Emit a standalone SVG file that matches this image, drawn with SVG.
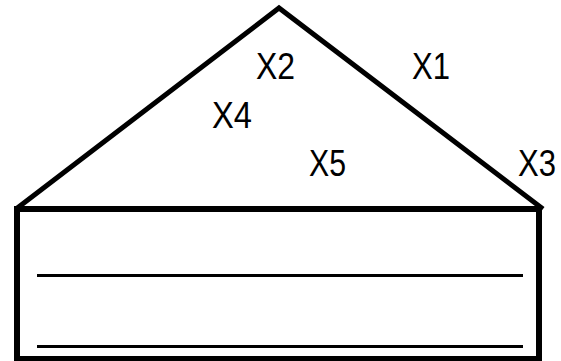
<svg xmlns="http://www.w3.org/2000/svg" width="561" height="361" viewBox="0 0 561 361">
<style>
.roof{fill:none;stroke:#000;stroke-width:5;stroke-linejoin:miter}
.box{fill:#fff;stroke:#000;stroke-width:6}
.line{stroke:#000;stroke-width:3}
.lbl{font-family:"Liberation Sans",Arial,sans-serif;font-size:36px;fill:#000}
</style>
<rect width="561" height="361" fill="#fff"/>
<g id="roof">
<polyline class="roof" points="16,209 279,8 543,209"/>
</g>
<g id="base">
<rect class="box" x="17" y="209" width="522" height="150"/>
<line class="line" x1="37" y1="275.5" x2="523" y2="275.5"/>
<line class="line" x1="37" y1="346.5" x2="523" y2="346.5"/>
</g>
<g id="labels">
<text id="X2" class="lbl" x="256" y="79" textLength="39" lengthAdjust="spacingAndGlyphs">X2</text>
<text id="X1" class="lbl" x="412" y="79" textLength="38" lengthAdjust="spacingAndGlyphs">X1</text>
<text id="X4" class="lbl" x="212" y="128" textLength="40" lengthAdjust="spacingAndGlyphs">X4</text>
<text id="X5" class="lbl" x="309" y="176" textLength="37" lengthAdjust="spacingAndGlyphs">X5</text>
<text id="X3" class="lbl" x="518" y="176" textLength="38" lengthAdjust="spacingAndGlyphs">X3</text>
</g>
</svg>
